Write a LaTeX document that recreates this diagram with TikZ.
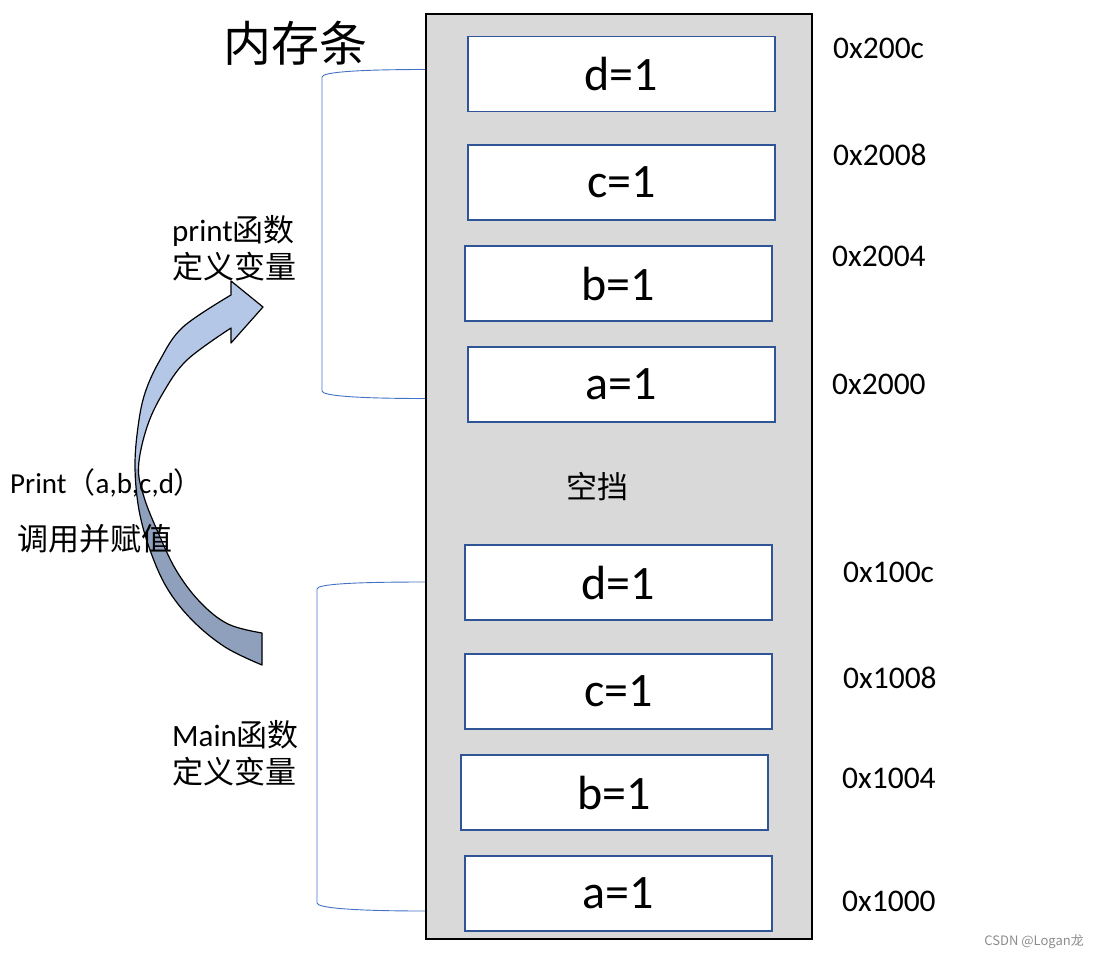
\documentclass[tikz,border=0pt]{standalone}
\usepackage{fontspec}
\setmainfont{Carlito}
\newfontfamily\cjk{Noto Sans CJK SC}
\definecolor{memgray}{HTML}{D9D9D9}
\definecolor{cellblue}{HTML}{2F5597}
\definecolor{brblue}{HTML}{4472C4}
\definecolor{arlight}{HTML}{B4C7E7}
\definecolor{ardark}{HTML}{8EA0BB}
\begin{document}
\begin{tikzpicture}[x=1pt,y=-1pt,
  cell/.style={draw=cellblue, line width=1.1pt, fill=white, minimum width=307pt, minimum height=75pt, inner sep=0pt, font=\fontsize{48}{54}\selectfont},
  addr/.style={anchor=west, inner sep=0pt, font=\fontsize{31.5}{36}\selectfont},
  lbl/.style={anchor=west, inner sep=0pt, align=left, font=\fontsize{31}{37}\selectfont},
  bracket/.style={draw=brblue, line width=0.9pt}]
\useasboundingbox (0,0) rectangle (1098,959);
% memory strip
\node[draw=black, line width=1.5pt, fill=memgray, minimum width=386pt, minimum height=925pt, inner sep=0pt, anchor=north west] (mem) at (425,13) {};
% cells
\node[cell] (d2) at (621.5,74) {d=1};
\node[cell] (c2) at (621.5,182.5) {c=1};
\node[cell] (b2) at (618.5,283.5) {b=1};
\node[cell] (a2) at (621.5,384.5) {a=1};
\node[cell] (d1) at (618.5,582.5) {d=1};
\node[cell] (c1) at (618.5,691.5) {c=1};
\node[cell] (b1) at (614.5,792.5) {b=1};
\node[cell] (a1) at (618.5,893.5) {a=1};
% addresses
\node[addr] (ad2) at (833,48) {0x200c};
\node[addr] (ac2) at (833,155) {0x2008};
\node[addr] (ab2) at (832,256) {0x2004};
\node[addr] (aa2) at (832,384) {0x2000};
\node[addr] (ad1) at (843,572) {0x100c};
\node[addr] (ac1) at (843,678) {0x1008};
\node[addr] (ab1) at (842,778) {0x1004};
\node[addr] (aa1) at (842,901) {0x1000};
% title and gap
\node[inner sep=0pt, font=\cjk\fontsize{48}{54}\selectfont] (title) at (295,43) {内存条};
\node[inner sep=0pt, font=\cjk\fontsize{31}{36}\selectfont] (gap) at (597,487) {空挡};
% brackets
\draw[bracket] (425,69.5) .. controls (360,69.5) and (322,72) .. (322,77) -- (322,391) .. controls (322,396) and (360,398.5) .. (425,398.5);
\draw[bracket] (425,582) .. controls (355,582) and (317,584) .. (317,589) -- (317,903) .. controls (317,908) and (355,911) .. (425,911);
% curved arrow
\def\arrowpath{(262,633) -- plot[smooth, tension=0.6] coordinates {(262,633) (228,624) (200,602) (176,570) (157,530) (144,497) (138.5,467) (147,427) (163,393) (187,360) (231,328)} -- (231,343) -- (263,307) -- (231,281) -- (231,295) -- plot[smooth, tension=0.6] coordinates {(231,295) (183,327) (160,360) (145,393) (138,427) (135,467) (139,510) (150,550) (167,588) (192,620) (225,647) (262,665)} -- cycle}
\fill[arlight] \arrowpath;
\begin{scope}
  \clip (0,469) rectangle (400,700);
  \fill[ardark] \arrowpath;
\end{scope}
\draw[black, line width=1.2pt, line join=round] \arrowpath;
% left labels
\node[lbl] (plbl) at (172,248) {print{\cjk 函数}\\{\cjk 定义变量}};
\node[lbl] (mlbl) at (172,753) {Main{\cjk 函数}\\{\cjk 定义变量}};
\node[anchor=west, inner sep=0pt, font=\fontsize{29}{34}\selectfont] (call) at (10,483) {Print{\cjk （}a,b,c,d{\cjk ）}};
\node[anchor=west, inner sep=0pt, font=\cjk\fontsize{31}{36}\selectfont] (assign) at (17,539) {调用并赋值};
% watermark
\node[anchor=east, inner sep=0pt, text=black!45, font=\cjk\fontsize{13}{15}\selectfont] (wm) at (1084,942) {CSDN @Logan龙};
\end{tikzpicture}
\end{document}
